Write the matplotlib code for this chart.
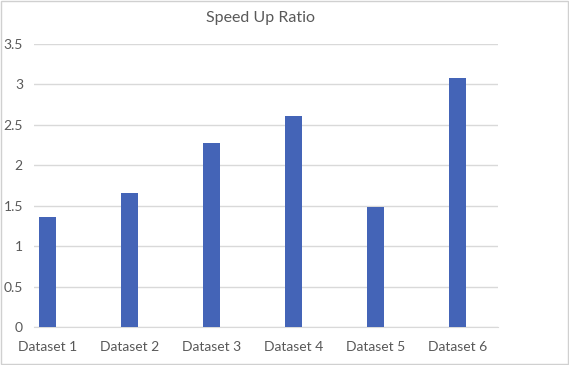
import numpy as np
import matplotlib.pyplot as plt

categories = ["Dataset 1", "Dataset 2", "Dataset 3", "Dataset 4", "Dataset 5", "Dataset 6"]
speedup = [1.36, 1.66, 2.28, 2.61, 1.49, 3.08]
yticks = [0, 0.5, 1, 1.5, 2, 2.5, 3, 3.5]
ytick_labels = ["0", "0.5", "1", "1.5", "2", "2.5", "3", "3.5"]

plt.rcParams['font.family'] = ['Lato', 'DejaVu Sans']

fig = plt.figure(figsize=(5.69, 3.65), dpi=100)
# chart frame like the spreadsheet export
fig.patches.append(plt.Rectangle((0.002, 0.003), 0.996, 0.994, transform=fig.transFigure,
                                 fill=False, edgecolor='#d0d0d0', linewidth=1))

ax = fig.add_axes([34/569, 1-327/365, (498-34)/569, (327-44)/365])

x = np.arange(len(categories))
ax.bar(x, speedup, width=0.21, color='#4464b7', zorder=3)

ax.set_xlim(-0.167, 5.49)
ax.set_ylim(0, 3.5)
ax.set_yticks(yticks)
ax.set_yticklabels(ytick_labels)
ax.set_xticks(x)
ax.set_xticklabels(categories)

# horizontal gridlines only, no frame
ax.grid(axis='y', color='#d9d9d9', linewidth=1, zorder=0)
for s in ['top', 'right', 'left']:
    ax.spines[s].set_visible(False)
ax.spines['bottom'].set_color('#d9d9d9')
ax.tick_params(length=0, colors='#595959', labelsize=10)
ax.tick_params(axis='y', pad=8)
ax.tick_params(axis='x', pad=10)

fig.text(0.457, 1-18/365, "Speed Up Ratio", ha='center', va='center',
         fontsize=11.5, color='#595959')

fig.savefig("out.png", dpi=100)
